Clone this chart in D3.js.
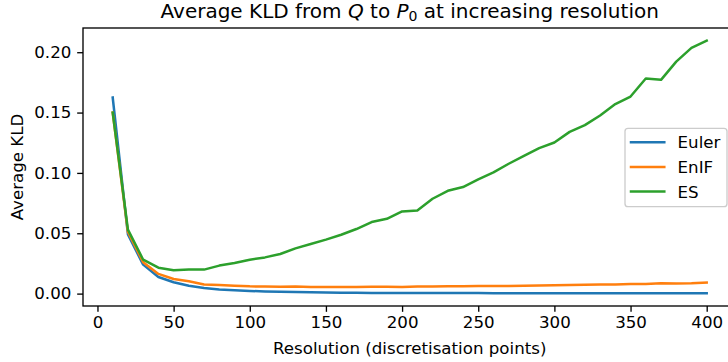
<!DOCTYPE html>
<html><head><meta charset="utf-8">
<script src="https://cdn.jsdelivr.net/npm/d3@7"></script>
<style>body{margin:0;background:#fff}svg{display:block;font-family:"DejaVu Sans",sans-serif}</style>
</head><body><svg id="c" width="728" height="362"></svg>
<script>
const resolution = [10,20,30,40,50,60,70,80,90,100,110,120,130,140,150,160,170,180,190,200,210,220,230,240,250,260,270,280,290,300,310,320,330,340,350,360,370,380,390,400];
const euler = [0.1625,0.049,0.024,0.0138,0.0094,0.0065,0.0047,0.0035,0.0028,0.0022,0.0018,0.0015,0.0013,0.0011,0.0009,0.0008,0.0007,0.0006,0.0006,0.0005,0.0005,0.0004,0.0004,0.0004,0.0004,0.0003,0.0003,0.0003,0.0003,0.0003,0.0003,0.0003,0.0002,0.0002,0.0002,0.0002,0.0002,0.0002,0.0002,0.0002];
const enif = [0.150,0.051,0.026,0.0163,0.0121,0.0102,0.0075,0.0072,0.0065,0.006,0.0058,0.0057,0.0058,0.0054,0.0055,0.0055,0.0055,0.0057,0.0057,0.0055,0.0058,0.0058,0.006,0.006,0.0062,0.0063,0.0064,0.0066,0.0068,0.007,0.0072,0.0074,0.0075,0.0076,0.008,0.008,0.0085,0.0084,0.0086,0.0092];
const es = [0.150,0.053,0.0281,0.0215,0.0193,0.0199,0.0199,0.0232,0.0254,0.0281,0.030,0.0328,0.0375,0.0411,0.0447,0.0488,0.0535,0.0593,0.062,0.0681,0.0689,0.0786,0.0852,0.0883,0.0946,0.1004,0.1076,0.1142,0.1205,0.1252,0.134,0.1396,0.1476,0.157,0.1633,0.1782,0.1771,0.1922,0.2036,0.2096];
const seriesNames = ["Euler","EnIF","ES"];
const seriesColors = ["#1f77b4","#ff7f0e","#2ca02c"];
const xTicks = [0,50,100,150,200,250,300,350,400];
const yTicks = [0,0.05,0.10,0.15,0.20];

const allSeries = [euler, enif, es];
const svg = d3.select("#c");
const L = 83, R = 736.4, T = 28, B = 306;
const xmin = d3.min(resolution), xmax = d3.max(resolution);
const xpad = (xmax - xmin) * 0.05;
const x = d3.scaleLinear().domain([xmin - xpad, xmax + xpad]).range([L, R]);
const allV = allSeries.flat();
const ymin = d3.min(allV), ymax = d3.max(allV);
const ypad = (ymax - ymin) * 0.05;
const y = d3.scaleLinear().domain([ymin - ypad, ymax + ypad]).range([B, T]);

const fs = 16.67;
// lines
const line = d3.line().x((d,i)=>x(resolution[i])).y(d=>y(d));
const plot = svg.append("g");
allSeries.forEach((s,k)=>{
  plot.append("path").datum(s).attr("d", line).attr("fill","none")
    .attr("stroke", seriesColors[k]).attr("stroke-width",2.5)
    .attr("stroke-linejoin","round").attr("stroke-linecap","square");
});

// axes
const xAxis = d3.axisBottom(x).tickValues(xTicks).tickFormat(d3.format("d")).tickSize(5.83).tickPadding(4.5);
const gx = svg.append("g").attr("transform",`translate(0,${B})`).call(xAxis);
const yAxis = d3.axisLeft(y).tickValues(yTicks).tickFormat(d3.format(".2f")).tickSize(5.83).tickPadding(5.83);
const gy = svg.append("g").attr("transform",`translate(${L},0)`).call(yAxis);
[gx,gy].forEach(g=>{
  g.select(".domain").remove();
  g.selectAll(".tick line").attr("stroke","#000").attr("stroke-width",1.33);
  g.selectAll(".tick text").attr("fill","#000").style("font-size",fs+"px").style("font-family","DejaVu Sans");
});
// spines
svg.append("rect").attr("x",L).attr("y",T).attr("width",R-L).attr("height",B-T)
  .attr("fill","none").attr("stroke","#000").attr("stroke-width",1.33);

// axis labels
svg.append("text").attr("x",(L+R)/2).attr("y",353.5).attr("text-anchor","middle")
  .style("font-size",fs+"px").text("Resolution (discretisation points)");
svg.append("text").attr("transform",`translate(23,${(T+B)/2}) rotate(-90)`).attr("text-anchor","middle")
  .style("font-size",fs+"px").text("Average KLD");

// title
const title = svg.append("text").attr("x",(L+R)/2).attr("y",18.3).attr("text-anchor","middle").style("font-size","20px");
title.append("tspan").text("Average KLD from ");
title.append("tspan").style("font-style","italic").text("Q");
title.append("tspan").text(" to ");
title.append("tspan").style("font-style","italic").text("P");
title.append("tspan").attr("dy",3).style("font-size","14px").text("0");
title.append("tspan").attr("dy",-3).text(" at increasing resolution");

// legend
const lg = svg.append("g");
lg.append("rect").attr("x",625).attr("y",128.3).attr("width",102).attr("height",78.4)
  .attr("rx",3).attr("fill","#fff").attr("fill-opacity",0.8).attr("stroke","#cccccc").attr("stroke-width",1.33);
const rowY = [142.3,166.9,191.5];
seriesNames.forEach((n,k)=>{
  lg.append("line").attr("x1",631).attr("x2",664.3).attr("y1",rowY[k]).attr("y2",rowY[k])
    .attr("stroke",seriesColors[k]).attr("stroke-width",2.5).attr("stroke-linecap","square");
  lg.append("text").attr("x",677.6).attr("y",rowY[k]+6.1).style("font-size",fs+"px").text(n);
});
</script></body></html>
